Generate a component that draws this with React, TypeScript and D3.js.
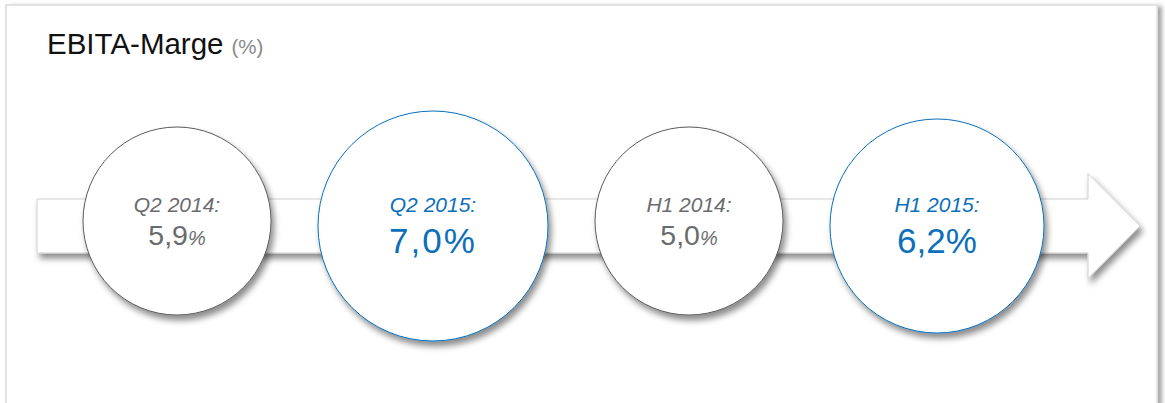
import React from "react";
import * as d3 from "d3";

const periods = ["Q2 2014", "Q2 2015", "H1 2014", "H1 2015"];
const margins = [5.9, 7.0, 5.0, 6.2];
const highlighted = [false, true, false, true];
const titleText = "EBITA-Marge";
const unitText = "(%)";

const W = 1165;
const H = 403;
const BLUE = "#0b6fba";
const GRAY_TXT = "#6a6b6e";

export default function App() {
  const rHi = d3.scaleLinear().domain([6.2, 7.0]).range([107, 115]);
  const radius = (i: number) => (highlighted[i] ? rHi(margins[i]) : 94);
  const fmt = (v: number) => d3.format(".1f")(v).replace(".", ",");

  // sequential layout: circles placed edge to edge with a constant gap
  const gap = 47;
  const centers: number[] = [];
  periods.forEach((_, i) => {
    if (i === 0) centers.push(177);
    else centers.push(centers[i - 1] + radius(i - 1) + gap + radius(i));
  });

  const arrowY = 226;
  const bodyH = 54;
  const headH = 105;
  const x0 = 37, xHead = 1088, xTip = 1140;
  const arrowPath = d3.path();
  arrowPath.moveTo(x0, arrowY - bodyH / 2);
  arrowPath.lineTo(xHead, arrowY - bodyH / 2);
  arrowPath.lineTo(xHead, arrowY - headH / 2);
  arrowPath.lineTo(xTip, arrowY);
  arrowPath.lineTo(xHead, arrowY + headH / 2);
  arrowPath.lineTo(xHead, arrowY + bodyH / 2);
  arrowPath.lineTo(x0, arrowY + bodyH / 2);
  arrowPath.closePath();

  return (
    <svg
      width={W}
      height={H}
      style={{ position: "absolute", left: 0, top: 0, fontFamily: "Arial, 'Liberation Sans', sans-serif" }}
    >
      <defs>
        <filter id="frameShadow" x="-5%" y="-5%" width="110%" height="110%">
          <feDropShadow dx="4" dy="2" stdDeviation="2" floodColor="#000" floodOpacity="0.35" />
        </filter>
        <filter id="shadow" x="-20%" y="-20%" width="140%" height="150%">
          <feDropShadow dx="3" dy="5" stdDeviation="3" floodColor="#000" floodOpacity="0.45" />
        </filter>
      </defs>
      <rect x={0} y={0} width={W} height={H} fill="#fff" />
      <rect x={6} y={5} width={1151} height={440} fill="#fff" stroke="#e2e2e2" strokeWidth={2} filter="url(#frameShadow)" />

      <text x={47} y={54} fontSize={29.5} fill="#111">
        {titleText}
        <tspan fontSize={20.5} fill="#8a8a8a" dx={8}>{unitText}</tspan>
      </text>

      <path d={arrowPath.toString()} fill="#fff" stroke="#d0d0d0" strokeWidth={1} filter="url(#shadow)" />

      {periods.map((p, i) => {
        const hi = highlighted[i];
        const cx = centers[i];
        const cy = hi ? 226 : 221;
        const r = radius(i);
        const col = hi ? BLUE : GRAY_TXT;
        return (
          <g key={p}>
            <circle cx={cx} cy={cy} r={r} fill="#fff" stroke={hi ? BLUE : "#5a5a5a"} strokeWidth={1} filter="url(#shadow)" />
            <text x={cx} y={212} textAnchor="middle" fontSize={21} fontStyle="italic" fill={col}>
              {p}:
            </text>
            {hi ? (
              <text x={cx} y={253} textAnchor="middle" fontSize={35} fill={col} letterSpacing={i === 1 ? 2 : 0}>
                {fmt(margins[i])}%
              </text>
            ) : (
              <text x={cx} y={245} textAnchor="middle" fontSize={28.5} fill={col}>
                {fmt(margins[i])}
                <tspan fontSize={20} fontStyle="italic">%</tspan>
              </text>
            )}
          </g>
        );
      })}
    </svg>
  );
}
